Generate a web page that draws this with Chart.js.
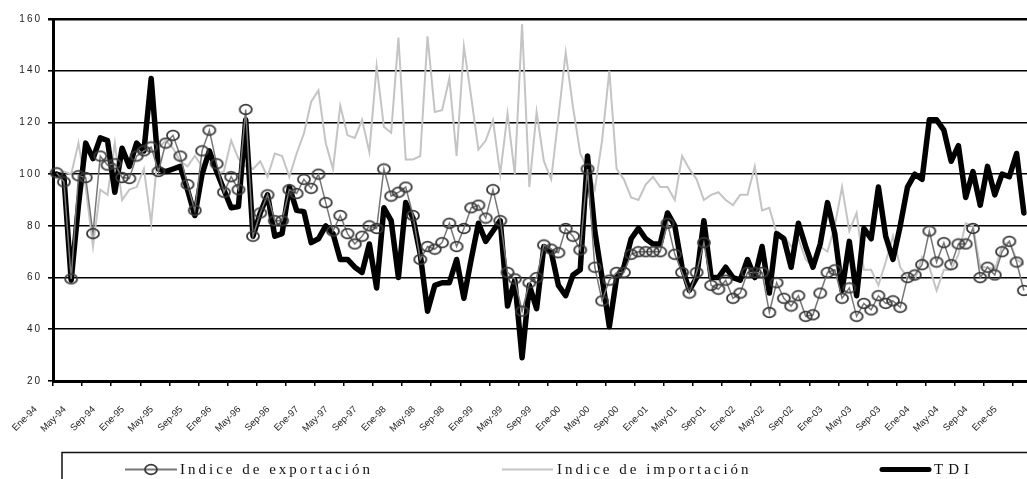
<!DOCTYPE html>
<html>
<head>
<meta charset="utf-8">
<script src="https://cdn.jsdelivr.net/npm/chart.js@4.4.1/dist/chart.umd.min.js"></script>
<style>
  html, body { margin: 0; padding: 0; background: #fff; overflow: hidden; }
  #caja { position: absolute; left: 0; top: 0; width: 1035px; height: 490px; }
</style>
</head>
<body>
<div id="caja"><canvas id="grafico"></canvas></div>
<script>
// ------------------------------- DATOS

var meses = ['Ene','Feb','Mar','Abr','May','Jun','Jul','Ago','Sep','Oct','Nov','Dic']
var anios = ['94','95','96','97','98','99','00','01','02','03','04','05']

var exportacion = [
    100.5, 97, 59.5, 99.4, 98.7, 77, 107, 103.5, 104, 98.7, 98.3, 107,
    109, 110.5, 101, 112, 115, 107, 96, 86, 109, 117, 104, 93,
    99, 94, 125, 76, 85, 92, 82, 82, 94, 92.5, 98, 94.5,
    100, 89, 78, 84, 77, 73, 76, 80, 79, 102, 91.5, 93,
    95, 84, 67, 72, 71, 73.5, 81, 72, 79, 87, 88, 83,
    94, 82, 62, 59.5, 47, 58, 60, 72.6, 71, 69.6, 79, 76,
    70.7, 102, 64, 51, 59, 62, 62, 69, 70, 70, 70, 70,
    81, 69, 62, 54, 62, 73.5, 57, 55.5, 59, 52, 54, 62,
    62, 62, 46.5, 58, 52, 49, 53, 45, 45.6, 54, 62, 63,
    52, 56, 45, 50, 47.5, 53, 50, 51, 48.5, 60, 61, 65,
    78, 66, 73.5, 65, 73, 73, 79, 60, 64, 61, 70, 74,
    66, 55
]

var importacion = [
    100, 101, 100, 112, 95, 72, 94, 92, 112, 90, 94, 95,
    102, 81, 110, 113, 110, 105, 103, 107, 103, 109, 100, 101,
    113, 106, 103, 102, 105, 99, 108, 107, 99, 108, 115.7, 128,
    132.4, 112, 102, 126.5, 115, 114, 121, 108.6, 141.7, 118.3, 116, 152.8,
    105.7, 105.7, 107, 153.3, 124, 124.7, 137, 107, 149.4, 130, 109.5, 113,
    120.8, 100, 123.4, 100, 158, 95, 124, 105, 98, 122, 147, 126,
    108, 102, 94, 113, 140, 102, 98, 91, 90, 96, 99, 95,
    95, 90, 107, 102, 98, 90, 92, 93, 90, 88, 92, 92,
    103, 86, 87, 77, 76, 72, 75, 67, 64, 72, 70, 80,
    95, 78, 85, 63, 63, 57, 66, 76, 64, 60, 59, 68,
    64, 55, 63, 63, 69, 81, 80, 64, 64, 63, 72, 74,
    67, 65
]

var tdi = [
    100, 99, 59, 88, 112, 106, 114, 113, 93, 110, 103, 112,
    109, 137, 102, 101, 102, 103, 94, 84, 100, 109, 101, 94,
    87, 87.5, 121, 76, 85, 92, 76, 77, 95, 86, 85.5, 73.5,
    75, 80, 77, 67, 67, 64, 62, 73, 56, 87, 82, 60,
    89, 83, 69, 47, 57, 58, 58, 67, 52, 67, 81, 74,
    78, 82, 49, 59, 29, 57, 48, 72, 70, 57, 53, 61,
    63, 107, 78, 60, 41, 60, 64, 75, 79, 75, 73, 73,
    85, 80, 64, 55, 60, 82, 60, 60, 64, 60, 59, 67,
    60, 72, 54, 77, 75, 64, 81, 72, 64, 73, 89, 77,
    55, 74, 53, 79, 75, 95, 76, 67, 80, 95, 100, 98,
    121, 121, 117, 105, 111, 91, 101, 88, 103, 92, 100, 99,
    108, 85
]

var yTicks = [20, 40, 60, 80, 100, 120, 140, 160]

var etiquetas = []
for(let a of anios){
    for(let m of meses){
        if(etiquetas.length < tdi.length) etiquetas.push(m + '-' + a)
    }
}

// ------------------------------- MARCA (elipse)

var marca = document.createElement('canvas')
marca.width = 16
marca.height = 13
var mctx = marca.getContext('2d')
mctx.strokeStyle = '#3a3a3a'
mctx.lineWidth = 1.8
mctx.beginPath()
mctx.ellipse(8, 6.5, 6, 4.8, 0, 0, Math.PI*2)
mctx.stroke()

// ------------------------------- LEYENDA

var leyenda = {
    id: 'leyenda',
    beforeDraw: (chart) => {
        // separacion de letras en el eje y
        let s = chart.scales.y
        if(!s._envuelto){
            let orig = s.drawLabels.bind(s)
            s.drawLabels = (area) => {
                chart.ctx.save()
                chart.ctx.letterSpacing = '2px'
                orig(area)
                chart.ctx.restore()
            }
            s._envuelto = true
        }
    },
    afterDraw: (chart) => {
        let ctx = chart.ctx
        let ds = chart.data.datasets
        ctx.save()
        ctx.strokeStyle = '#111'
        ctx.lineWidth = 1.5
        ctx.strokeRect(62, 452.5, chart.width, 60)

        let y = 469.5
        // exportacion
        ctx.strokeStyle = '#777'
        ctx.lineWidth = 2
        ctx.beginPath(); ctx.moveTo(125, y); ctx.lineTo(177, y); ctx.stroke()
        ctx.drawImage(marca, 151 - 8, y - 6.5)
        // importacion
        ctx.strokeStyle = '#c4c4c4'
        ctx.beginPath(); ctx.moveTo(502, y); ctx.lineTo(553, y); ctx.stroke()
        // tdi
        ctx.strokeStyle = '#000'
        ctx.lineWidth = 5
        ctx.lineCap = 'round'
        ctx.beginPath(); ctx.moveTo(882, y); ctx.lineTo(929, y); ctx.stroke()

        ctx.fillStyle = '#111'
        ctx.font = '15px "Liberation Serif", "Times New Roman", serif'
        ctx.letterSpacing = '3px'
        ctx.textBaseline = 'alphabetic'
        ctx.fillText(ds[0].label, 180, 474)
        ctx.fillText(ds[1].label, 557, 474)
        ctx.letterSpacing = '5px'
        ctx.fillText(ds[2].label, 934, 474)
        ctx.restore()
    }
}

// ------------------------------- GRAFICO

var grafico = new Chart(document.getElementById('grafico'), {
    type: 'line',
    data: {
        labels: etiquetas,
        datasets: [
            {
                label: 'Indice de exportación',
                data: exportacion,
                borderColor: '#767676',
                borderWidth: 1.5,
                pointStyle: marca,
                pointRadius: 6,
                order: 0
            },
            {
                label: 'Indice de importación',
                data: importacion,
                borderColor: '#c4c4c4',
                borderWidth: 2,
                pointRadius: 0,
                order: 2
            },
            {
                label: 'TDI',
                data: tdi,
                borderColor: '#000',
                borderWidth: 5.5,
                borderJoinStyle: 'round',
                borderCapStyle: 'round',
                pointRadius: 0,
                order: 1
            }
        ]
    },
    options: {
        responsive: true,
        maintainAspectRatio: false,
        animation: false,
        layout: { padding: { left: 0, right: 0, top: 19, bottom: 49 } },
        plugins: {
            legend: { display: false },
            tooltip: { enabled: false }
        },
        scales: {
            x: {
                type: 'category',
                offset: true,
                afterFit: (s) => {
                    s.height = 60
                    s.paddingLeft = 0
                    s.paddingRight = 0
                },
                border: { display: true, color: '#000', width: 3 },
                grid: {
                    offset: true,
                    drawOnChartArea: false,
                    drawTicks: true,
                    tickLength: 5,
                    lineWidth: 1.5,
                    color: (c) => (c.index % 4 === 0 ? '#000' : 'rgba(0,0,0,0)')
                },
                ticks: {
                    autoSkip: false,
                    minRotation: 45,
                    maxRotation: 45,
                    padding: 18,
                    labelOffset: -21,
                    color: '#222',
                    font: { family: '"Liberation Sans", Arial, sans-serif', size: 9.5 },
                    callback: (v, i) => (i % 4 === 0 ? etiquetas[i] : '')
                }
            },
            y: {
                min: 20,
                max: 160,
                afterFit: (s) => { s.width = 53 },
                afterBuildTicks: (s) => { s.ticks = yTicks.map(v => ({ value: v })) },
                border: { display: true, color: '#000', width: 3 },
                grid: {
                    color: '#000',
                    lineWidth: (c) => (c.tick && c.tick.value === 160 ? 2.5 : 1.6),
                    drawTicks: true,
                    tickLength: 5
                },
                ticks: {
                    padding: 6,
                    color: '#222',
                    font: { family: '"Liberation Sans", Arial, sans-serif', size: 10 }
                }
            }
        }
    },
    plugins: [leyenda]
})
</script>
</body>
</html>
